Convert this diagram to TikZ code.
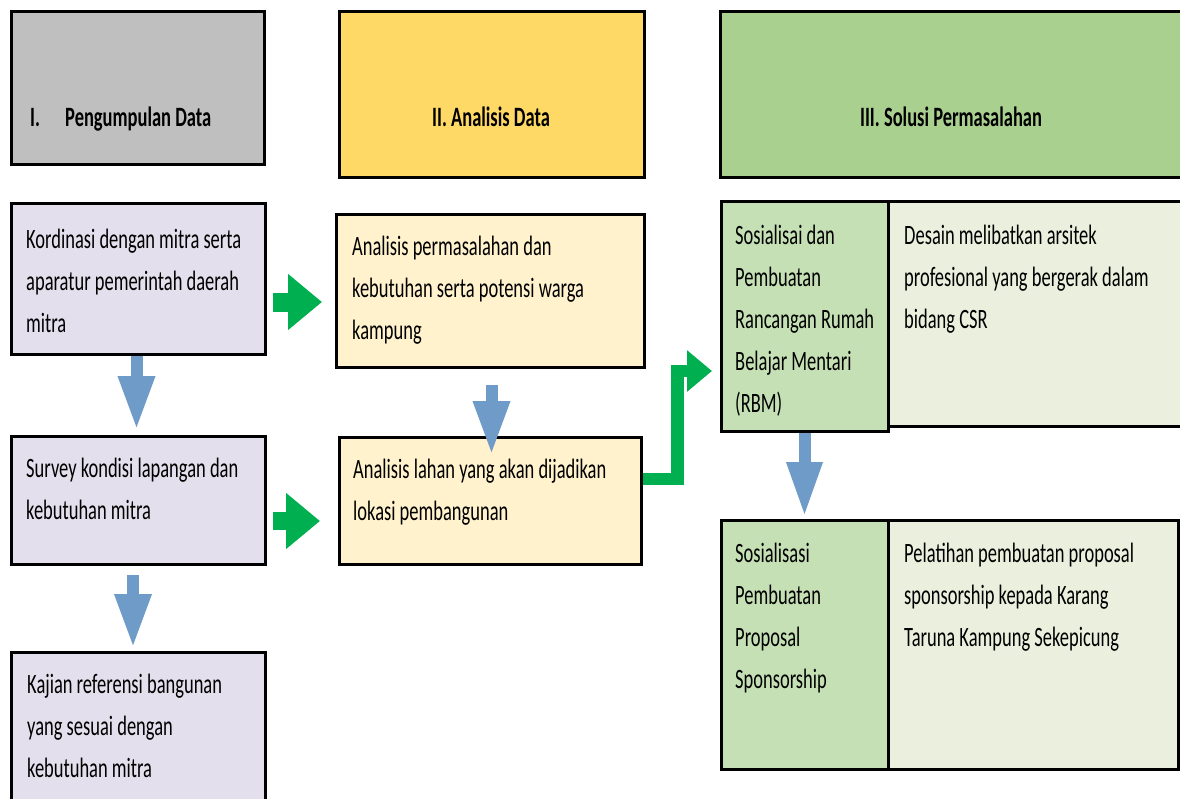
\documentclass[tikz,border=0pt]{standalone}
\usepackage{fontspec}
\setmainfont{Carlito}[FakeStretch=0.66]
\usetikzlibrary{arrows.meta}
\definecolor{hgray}{HTML}{BFBFBF}
\definecolor{hyellow}{HTML}{FFD966}
\definecolor{hgreen}{HTML}{A9D08E}
\definecolor{lav}{HTML}{E4DFEC}
\definecolor{cream}{HTML}{FFF2CC}
\definecolor{lgreen}{HTML}{C5E0B4}
\definecolor{pgreen}{HTML}{EAF0DD}
\definecolor{arrgreen}{HTML}{00B050}
\definecolor{arrblue}{HTML}{6F9BC8}
\tikzset{
  box/.style={draw=black, line width=3pt, inner sep=0pt, outer sep=0pt, anchor=north west},
  txt/.style={anchor=base west, inner sep=0pt, font=\fontsize{28}{42}\selectfont},
  htxt/.style={anchor=base, inner sep=0pt, font=\fontsize{28}{42}\selectfont\bfseries},
  barrow/.style={draw=arrblue, line width=12pt, -{Triangle[width=34pt,length=54pt]}},
  garrow/.style={draw=arrgreen, line width=19pt, -{Triangle[width=54pt,length=34pt]}},
  gelbow/.style={draw=arrgreen, line width=12.5pt, line join=miter, -{Triangle[width=40pt,length=25pt]}}
}
\newcommand{\lines}[1]{\parbox[t]{320pt}{\raggedright #1}}
\begin{document}
\begin{tikzpicture}[x=1pt,y=-1pt]
\fill[white] (0,0) rectangle (1180,798);
\useasboundingbox (0,0) rectangle (1180,798);
\begin{scope}
\clip (0,0) rectangle (1180,798);
% headers
\node[box, fill=hgray, minimum width=253pt, minimum height=153pt] (h1) at (11.5,11.5) {};
\node[box, fill=hyellow, minimum width=305pt, minimum height=165.5pt] (h2) at (339,11.5) {};
\node[box, fill=hgreen, minimum width=470pt, minimum height=165.5pt] (h3) at (720,11.5) {};
\node[htxt, anchor=base west] (h1t) at (30,126) {\makebox[35pt][l]{I.}Pengumpulan Data};
\node[htxt] (h2t) at (491,126) {II. Analisis Data};
\node[htxt] (h3t) at (951,126) {III. Solusi Permasalahan};
% column I
\node[box, fill=lav, minimum width=253.5pt, minimum height=151pt] (a1) at (11.5,203) {};
\node[box, fill=lav, minimum width=253.5pt, minimum height=128pt] (a2) at (11.5,436) {};
\node[box, fill=lav, minimum width=253.5pt, minimum height=160pt] (a3) at (11.5,652) {};
\node[txt] (a1t) at (26,248) {\lines{Kordinasi dengan mitra serta\\aparatur pemerintah daerah\\mitra}};
\node[txt] (a2t) at (26,477) {\lines{Survey kondisi lapangan dan\\kebutuhan mitra}};
\node[txt] (a3t) at (27,693) {\lines{Kajian referensi bangunan\\yang sesuai dengan\\kebutuhan mitra}};
% column II
\node[box, fill=cream, minimum width=308pt, minimum height=153pt] (b1) at (336,214) {};
\node[box, fill=cream, minimum width=302pt, minimum height=127pt] (b2) at (339,437) {};
\node[txt] (b1t) at (352,255) {\lines{Analisis permasalahan dan\\kebutuhan serta potensi warga\\kampung}};
\node[txt] (b2t) at (353,478) {\lines{Analisis lahan yang akan dijadikan\\lokasi pembangunan}};
% column III
\node[box, fill=pgreen, minimum width=302pt, minimum height=225pt] (c1r) at (888,201) {};
\node[box, fill=lgreen, minimum width=167pt, minimum height=230pt] (c1l) at (721,201) {};
\node[box, fill=pgreen, minimum width=290.5pt, minimum height=249pt] (c2r) at (888,520) {};
\node[box, fill=lgreen, minimum width=167pt, minimum height=249pt] (c2l) at (721,520) {};
\node[txt] (c1lt) at (735,244) {\lines{Sosialisai dan\\Pembuatan\\Rancangan Rumah\\Belajar Mentari\\(RBM)}};
\node[txt] (c1rt) at (904,244) {\lines{Desain melibatkan arsitek\\profesional yang bergerak dalam\\bidang CSR}};
\node[txt] (c2lt) at (735,562) {\lines{Sosialisasi\\Pembuatan\\Proposal\\Sponsorship}};
\node[txt] (c2rt) at (904,562) {\lines{Pelatihan pembuatan proposal\\sponsorship kepada Karang\\Taruna Kampung Sekepicung}};
% blue arrows
\draw[barrow] ([xshift=-1.75pt,yshift=-1.5pt]a1.south) -- ([xshift=-1.75pt,yshift=6pt]a1.south |- a2.north);
\draw[barrow] ([xshift=-5.25pt,yshift=-11pt]a2.south) -- ([xshift=-5.25pt,yshift=4pt]a2.south |- a3.north);
\draw[barrow] ([xshift=1.5pt,yshift=-18pt]b1.south) -- ([xshift=1.5pt,yshift=-18pt]b1.south |- b2.north);
\draw[barrow, -{Triangle[width=33pt,length=55pt]}] ([yshift=-1.5pt]c1l.south) -- ([yshift=3pt]c2l.north);
% green arrows
\coordinate (gy1) at (0,302);
\coordinate (gy2) at (0,521);
\coordinate (gy3) at (0,479);
\coordinate (gy4) at (0,371);
\coordinate (gx) at (677.5,0);
\draw[garrow] ([xshift=8pt]a1.east |- gy1) -- ([xshift=-14pt]b1.west |- gy1);
\draw[garrow, line width=18pt] ([xshift=8pt]a2.east |- gy2) -- ([xshift=-19pt]b2.west |- gy2);
\draw[gelbow] ([xshift=1.5pt]b2.east |- gy3) -- (gx |- gy3) -- (gx |- gy4) -- ([xshift=-9pt]c1l.west |- gy4);
\end{scope}
\end{tikzpicture}
\end{document}
